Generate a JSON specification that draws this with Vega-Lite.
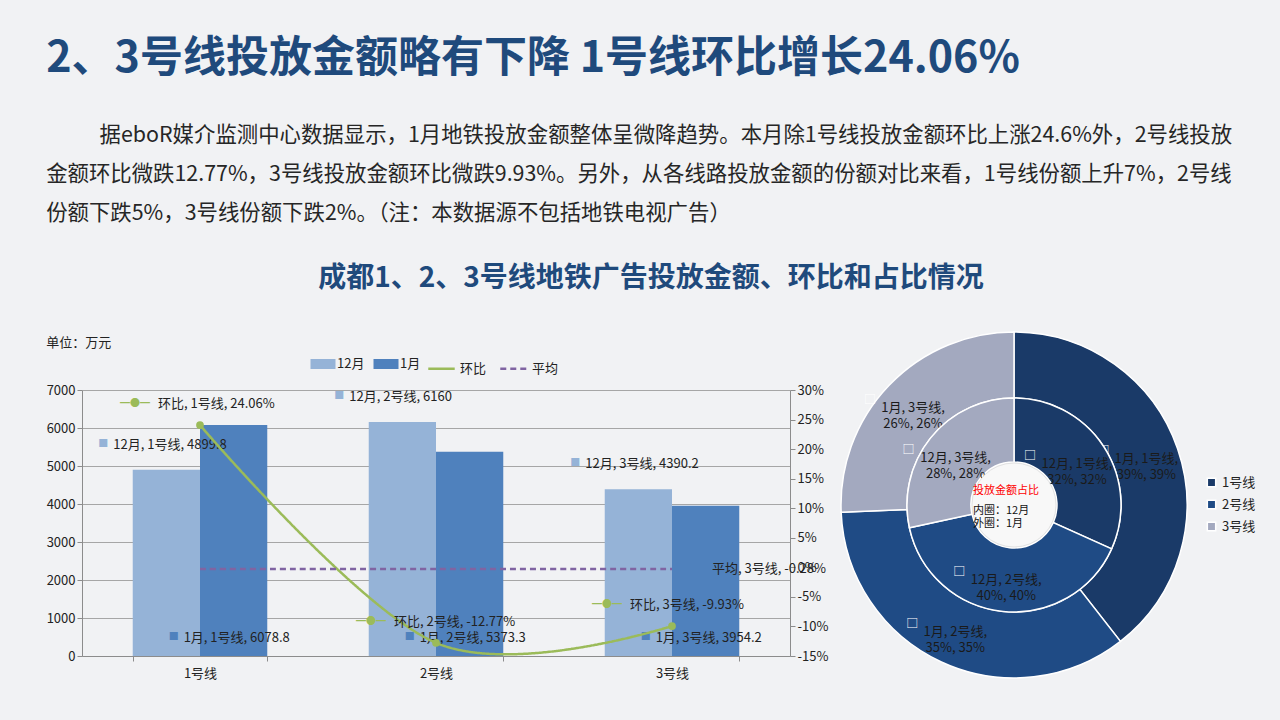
{
  "$schema": "https://vega.github.io/schema/vega-lite/v6.json",
  "background": "#f1f2f4",
  "padding": {"left": 46, "top": 37, "right": 24, "bottom": 40},
  "config": {
    "font": "Noto Sans CJK SC",
    "view": {"stroke": null},
    "concat": {"spacing": 10},
    "legend": {"layout": {"top": {"anchor": "middle", "direction": "horizontal", "margin": 6}}}
  },
  "datasets": {
    "bars": [
      {"line": "1号线", "month": "12月", "amount": 4899.8, "label": "12月, 1号线, 4899.8", "share_label": "12月, 1号线,\n32%, 32%"},
      {"line": "2号线", "month": "12月", "amount": 6160, "label": "12月, 2号线, 6160", "share_label": "12月, 2号线,\n40%, 40%"},
      {"line": "3号线", "month": "12月", "amount": 4390.2, "label": "12月, 3号线, 4390.2", "share_label": "12月, 3号线,\n28%, 28%"},
      {"line": "1号线", "month": "1月", "amount": 6078.8, "label": "1月, 1号线, 6078.8", "share_label": "1月, 1号线,\n39%, 39%"},
      {"line": "2号线", "month": "1月", "amount": 5373.3, "label": "1月, 2号线, 5373.3", "share_label": "1月, 2号线,\n35%, 35%"},
      {"line": "3号线", "month": "1月", "amount": 3954.2, "label": "1月, 3号线, 3954.2", "share_label": "1月, 3号线,\n26%, 26%"}
    ],
    "pct": [
      {"line": "1号线", "series": "环比", "pct": 24.06, "label": "环比, 1号线, 24.06%"},
      {"line": "2号线", "series": "环比", "pct": -12.77, "label": "环比, 2号线, -12.77%"},
      {"line": "3号线", "series": "环比", "pct": -9.93, "label": "环比, 3号线, -9.93%"},
      {"line": "1号线", "series": "平均", "pct": -0.28, "label": ""},
      {"line": "2号线", "series": "平均", "pct": -0.28, "label": ""},
      {"line": "3号线", "series": "平均", "pct": -0.28, "label": "平均, 3号线, -0.28%"}
    ],
    "center": [
      {"t1": "投放金额占比", "t2": "内圈：12月\n外圈：1月"}
    ]
  },
  "title": {
    "text": "2、3号线投放金额略有下降 1号线环比增长24.06%",
    "subtitle": [
      "\u200b\u3000\u3000\u2002据eboR媒介监测中心数据显示，1月地铁投放金额整体呈微降趋势。本月除1号线投放金额环比上涨24.6%外，2号线投放",
      "金额环比微跌12.77%，3号线投放金额环比微跌9.93%。另外，从各线路投放金额的份额对比来看，1号线份额上升7%，2号线",
      "份额下跌5%，3号线份额下跌2%。（注：本数据源不包括地铁电视广告）"
    ],
    "anchor": "start",
    "fontSize": 43,
    "fontWeight": "bold",
    "color": "#1F4A7C",
    "subtitleFontSize": 21.4,
    "subtitleColor": "#262626",
    "subtitleLineHeight": 39,
    "subtitlePadding": 44,
    "offset": 41
  },
  "resolve": {
    "scale": {"color": "independent", "fill": "independent", "stroke": "independent", "strokeDash": "independent"},
    "legend": {"color": "independent", "fill": "independent", "stroke": "independent", "strokeDash": "independent"}
  },
  "vconcat": [
    {
      "title": {
        "text": "成都1、2、3号线地铁广告投放金额、环比和占比情况",
        "anchor": "middle",
        "fontSize": 28,
        "fontWeight": "bold",
        "color": "#1F4A7C",
        "offset": 36
      },
      "resolve": {
        "scale": {"color": "independent", "fill": "independent", "stroke": "independent", "strokeDash": "independent"},
        "legend": {"color": "independent", "fill": "independent", "stroke": "independent", "strokeDash": "independent"}
      },
      "hconcat": [
        {
          "width": 708,
          "height": 266,
          "title": {"text": "单位：万元", "anchor": "start", "frame": "bounds", "fontSize": 13, "fontWeight": "normal", "color": "#222222", "offset": 4},
          "encoding": {
            "x": {
              "field": "line",
              "type": "nominal",
              "sort": ["1号线", "2号线", "3号线"],
              "scale": {"paddingInner": 0.43, "paddingOuter": 0.215},
              "axis": {"title": null, "labelAngle": 0, "labelFontSize": 13, "labelColor": "#222222", "labelPadding": 6, "domainColor": "#8c8c8c", "tickColor": "#8c8c8c", "tickBand": "extent", "tickSize": 5}
            }
          },
          "layer": [
            {
              "data": {"name": "bars"},
              "layer": [
                {
                  "mark": {"type": "bar"},
                  "encoding": {
                    "xOffset": {"field": "month", "type": "nominal", "scale": {"domain": ["12月", "1月"]}},
                    "y": {
                      "field": "amount",
                      "type": "quantitative",
                      "scale": {"domain": [0, 7000], "nice": false},
                      "axis": {"title": null, "values": [0, 1000, 2000, 3000, 4000, 5000, 6000, 7000], "tickCount": 20, "format": "d", "labelOverlap": false, "labelFontSize": 13, "labelColor": "#222222", "grid": true, "gridColor": "#a6a6a6", "domain": true, "domainColor": "#8c8c8c", "tickColor": "#8c8c8c", "tickSize": 5}
                    },
                    "fill": {
                      "field": "month",
                      "type": "nominal",
                      "scale": {"domain": ["12月", "1月"], "range": ["#95B3D7", "#4F81BD"]},
                      "legend": {"orient": "top", "direction": "horizontal", "title": null, "labelFontSize": 13, "labelColor": "#222222", "symbolType": "M-1.25,-0.5H1.25V0.5H-1.25Z", "symbolSize": 400, "symbolStrokeWidth": 0, "columnPadding": 8, "offset": 14}
                    }
                  }
                },
                {
                  "transform": [{"filter": "datum.month == '12月'"}],
                  "mark": {"type": "text", "align": "left", "baseline": "middle", "dx": -53, "dy": -25, "fontSize": 13, "color": "#222222"},
                  "encoding": {
                    "xOffset": {"field": "month", "type": "nominal", "scale": {"domain": ["12月", "1月"]}},
                    "y": {"field": "amount", "type": "quantitative"},
                    "text": {"field": "label"}
                  }
                },
                {
                  "transform": [{"filter": "datum.month == '12月'"}],
                  "mark": {"type": "text", "align": "center", "baseline": "middle", "dx": -63, "dy": -26, "fontSize": 10, "color": "#95B3D7", "text": "■"},
                  "encoding": {
                    "xOffset": {"field": "month", "type": "nominal", "scale": {"domain": ["12月", "1月"]}},
                    "y": {"field": "amount", "type": "quantitative"}
                  }
                },
                {
                  "transform": [{"filter": "datum.month == '1月'"}],
                  "mark": {"type": "text", "align": "left", "baseline": "middle", "dx": -50, "dy": -18, "fontSize": 13, "color": "#222222"},
                  "encoding": {
                    "xOffset": {"field": "month", "type": "nominal", "scale": {"domain": ["12月", "1月"]}},
                    "y": {"datum": 0, "type": "quantitative"},
                    "text": {"field": "label"}
                  }
                },
                {
                  "transform": [{"filter": "datum.month == '1月'"}],
                  "mark": {"type": "text", "align": "center", "baseline": "middle", "dx": -60, "dy": -19, "fontSize": 10, "color": "#4F81BD", "text": "■"},
                  "encoding": {
                    "xOffset": {"field": "month", "type": "nominal", "scale": {"domain": ["12月", "1月"]}},
                    "y": {"datum": 0, "type": "quantitative"}
                  }
                }
              ]
            },
            {
              "data": {"name": "pct"},
              "layer": [
                {
                  "mark": {"type": "line", "interpolate": "cardinal", "strokeWidth": 2.5},
                  "encoding": {
                    "y": {
                      "field": "pct",
                      "type": "quantitative",
                      "scale": {"domain": [-15, 30], "nice": false},
                      "axis": {"orient": "right", "title": null, "values": [-15, -10, -5, 0, 5, 10, 15, 20, 25, 30], "tickCount": 20, "labelExpr": "datum.value + '%'", "labelOverlap": false, "labelFontSize": 13, "labelColor": "#222222", "grid": false, "domain": true, "domainColor": "#8c8c8c", "tickColor": "#8c8c8c", "tickSize": 5}
                    },
                    "stroke": {
                      "field": "series",
                      "type": "nominal",
                      "scale": {"domain": ["环比", "平均"], "range": ["#9BBB59", "#8064A2"]},
                      "legend": {"orient": "top", "direction": "horizontal", "title": null, "labelFontSize": 13, "labelColor": "#222222", "symbolType": "stroke", "symbolSize": 700, "symbolStrokeWidth": 2.5, "columnPadding": 8, "offset": 14}
                    },
                    "strokeDash": {
                      "field": "series",
                      "type": "nominal",
                      "scale": {"domain": ["环比", "平均"], "range": [[1, 0], [6, 4]]},
                      "legend": {"orient": "top", "direction": "horizontal", "title": null, "labelFontSize": 13, "labelColor": "#222222", "symbolType": "stroke", "symbolSize": 700, "symbolStrokeWidth": 2.5, "columnPadding": 8, "offset": 14}
                    }
                  }
                },
                {
                  "transform": [{"filter": "datum.series == '环比'"}],
                  "mark": {"type": "point", "filled": true, "size": 60, "color": "#9BBB59", "opacity": 1},
                  "encoding": {"y": {"field": "pct", "type": "quantitative"}}
                },
                {
                  "transform": [{"filter": "datum.series == '环比'"}],
                  "mark": {"type": "text", "align": "left", "baseline": "middle", "dx": -42, "dy": -21, "fontSize": 13, "color": "#222222"},
                  "encoding": {"y": {"field": "pct", "type": "quantitative"}, "text": {"field": "label"}}
                },
                {
                  "transform": [{"filter": "datum.series == '环比'"}],
                  "mark": {"type": "text", "align": "center", "baseline": "middle", "dx": -65, "dy": -21, "fontSize": 10, "color": "#9BBB59", "text": "━●━"},
                  "encoding": {"y": {"field": "pct", "type": "quantitative"}}
                },
                {
                  "transform": [{"filter": "datum.label != '' && datum.series == '平均'"}],
                  "mark": {"type": "text", "align": "left", "baseline": "middle", "dx": 40, "dy": 0, "fontSize": 13, "color": "#222222"},
                  "encoding": {"y": {"field": "pct", "type": "quantitative"}, "text": {"field": "label"}}
                }
              ]
            }
          ],
          "resolve": {"scale": {"y": "independent"}}
        },
        {
          "width": 350,
          "height": 230,
          "layer": [
            {
              "data": {"name": "bars"},
              "transform": [{"filter": "datum.month == '1月'"}],
              "layer": [
                {
                  "mark": {"type": "arc", "innerRadius": 107, "outerRadius": 173, "stroke": "#ffffff", "strokeWidth": 1.5},
                  "encoding": {
                    "theta": {"field": "amount", "type": "quantitative", "stack": true},
                    "order": {"field": "line", "type": "ordinal"},
                    "color": {
                      "field": "line",
                      "type": "nominal",
                      "scale": {"domain": ["1号线", "2号线", "3号线"], "range": ["#1A3A68", "#1F4B85", "#A3A9BF"]},
                      "legend": {"orient": "none", "legendX": 366, "legendY": 86, "title": null, "labelFontSize": 13, "labelColor": "#222222", "symbolType": "square", "symbolSize": 70, "rowPadding": 7}
                    }
                  }
                },
                {
                  "mark": {"type": "text", "radius": 140, "lineBreak": "\n", "lineHeight": 16, "align": "center", "baseline": "middle", "fontSize": 13, "color": "#1a1a1a"},
                  "encoding": {
                    "theta": {"field": "amount", "type": "quantitative", "stack": true},
                    "order": {"field": "line", "type": "ordinal"},
                    "detail": {"field": "line"},
                    "text": {"field": "share_label"}
                  }
                },
                {
                  "mark": {"type": "text", "radius": 140, "align": "center", "baseline": "middle", "dx": -43, "dy": -8, "fontSize": 12, "color": "#ffffff", "text": "□"},
                  "encoding": {
                    "theta": {"field": "amount", "type": "quantitative", "stack": true},
                    "order": {"field": "line", "type": "ordinal"},
                    "detail": {"field": "line"}
                  }
                }
              ]
            },
            {
              "data": {"name": "bars"},
              "transform": [{"filter": "datum.month == '12月'"}],
              "layer": [
                {
                  "mark": {"type": "arc", "innerRadius": 43, "outerRadius": 107, "stroke": "#ffffff", "strokeWidth": 1.5},
                  "encoding": {
                    "theta": {"field": "amount", "type": "quantitative", "stack": true},
                    "order": {"field": "line", "type": "ordinal"},
                    "color": {"field": "line", "type": "nominal"}
                  }
                },
                {
                  "mark": {"type": "text", "radius": 75, "lineBreak": "\n", "lineHeight": 16, "align": "center", "baseline": "middle", "fontSize": 13, "color": "#1a1a1a"},
                  "encoding": {
                    "theta": {"field": "amount", "type": "quantitative", "stack": true},
                    "order": {"field": "line", "type": "ordinal"},
                    "detail": {"field": "line"},
                    "text": {"field": "share_label"}
                  }
                },
                {
                  "mark": {"type": "text", "radius": 75, "align": "center", "baseline": "middle", "dx": -47, "dy": -8, "fontSize": 12, "color": "#ffffff", "text": "□"},
                  "encoding": {
                    "theta": {"field": "amount", "type": "quantitative", "stack": true},
                    "order": {"field": "line", "type": "ordinal"},
                    "detail": {"field": "line"}
                  }
                }
              ]
            },
            {
              "data": {"name": "center"},
              "layer": [
                {"mark": {"type": "arc", "innerRadius": 0, "outerRadius": 42, "fill": "#f8f8f8", "stroke": "#e2e2e2", "strokeWidth": 1}, "encoding": {}},
                {"mark": {"type": "text", "align": "left", "baseline": "middle", "dx": -41, "dy": -14, "fontSize": 11, "color": "#ff0000"}, "encoding": {"text": {"field": "t1"}}},
                {"mark": {"type": "text", "align": "left", "baseline": "middle", "dx": -41, "dy": 6, "fontSize": 11, "lineBreak": "\n", "lineHeight": 13, "color": "#111111"}, "encoding": {"text": {"field": "t2"}}}
              ]
            }
          ],
          "resolve": {"scale": {"theta": "independent"}}
        }
      ]
    }
  ]
}
